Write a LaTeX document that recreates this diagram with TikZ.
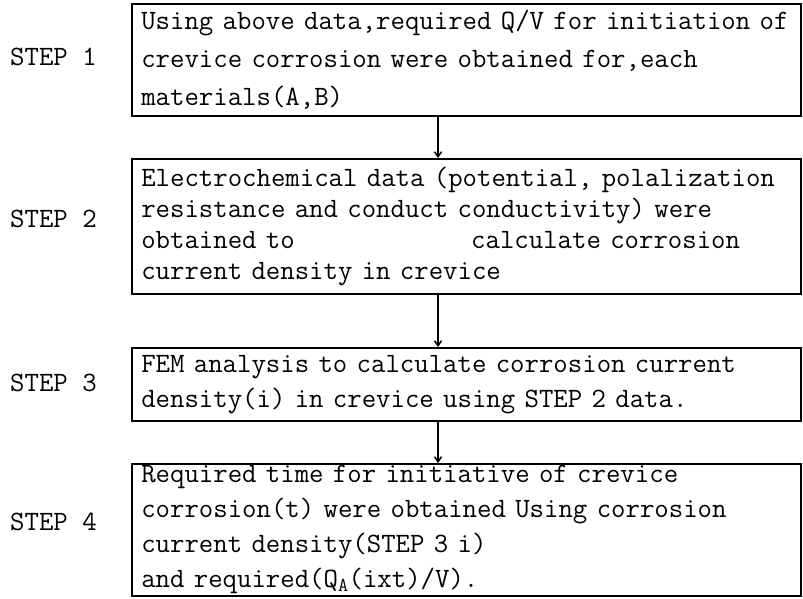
\documentclass[tikz,border=0pt]{standalone}
\usepackage{fontspec}
\usetikzlibrary{arrows.meta}

\tikzset{
  stepbox/.style={draw,line width=1.5pt,anchor=north west,align=left,
    text width=650pt,inner xsep=9.5pt,inner ysep=0pt,
    font=\ttfamily\fontsize{28}{#1}\selectfont},
  stepbox/.default=35,
  steplabel/.style={anchor=west,inner sep=0pt,
    font=\ttfamily\fontsize{28}{35}\selectfont},
  steparrow/.style={line width=1.5pt,-{Straight Barb[length=5pt,width=7pt]}}
}

\begin{document}
\begin{tikzpicture}[x=1pt,y=-1pt]
        %\draw[very thin,gray,step=50] (0,0) grid (803,598) ;
        \useasboundingbox (0,0) rectangle (803,598) ;
        % boxes
        \node[stepbox=38,minimum height=112pt] (box1) at (131,3)
        {Using above data,required Q/V for initiation of\\
         crevice corrosion were obtained for,each\\
         materials(A,B)} ;
        \node[stepbox=31,minimum height=135pt] (box2) at (131,158)
        {Electrochemical data (potential, polalization\\
         resistance and conduct conductivity) were\\
         obtained to\hspace{6.3em}calculate corrosion\\
         current density in crevice} ;
        \node[stepbox,minimum height=73pt] (box3) at (131,347)
        {FEM analysis to calculate corrosion current\\
         density(i) in crevice using STEP 2 data.} ;
        \node[stepbox,minimum height=132pt] (box4) at (131,463)
        {Required time for initiative of crevice\\
         corrosion(t) were obtained Using corrosion\\
         current density(STEP 3 i)\\
         and required(Q\textsubscript{A}(ixt)/V).} ;
        % labels
        \node[steplabel] (step1) at (10,57) {STEP 1} ;
        \node[steplabel] (step2) at (10,219) {STEP 2} ;
        \node[steplabel] (step3) at (10,383) {STEP 3} ;
        \node[steplabel] (step4) at (10,522) {STEP 4} ;
        % arrows
        \draw[steparrow] ([xshift=307pt]box1.south west) -- ([xshift=307pt]box2.north west) ;
        \draw[steparrow] ([xshift=307pt]box2.south west) -- ([xshift=307pt]box3.north west) ;
        \draw[steparrow] ([xshift=307pt]box3.south west) -- ([xshift=307pt]box4.north west) ;
\end{tikzpicture}
\end{document}
